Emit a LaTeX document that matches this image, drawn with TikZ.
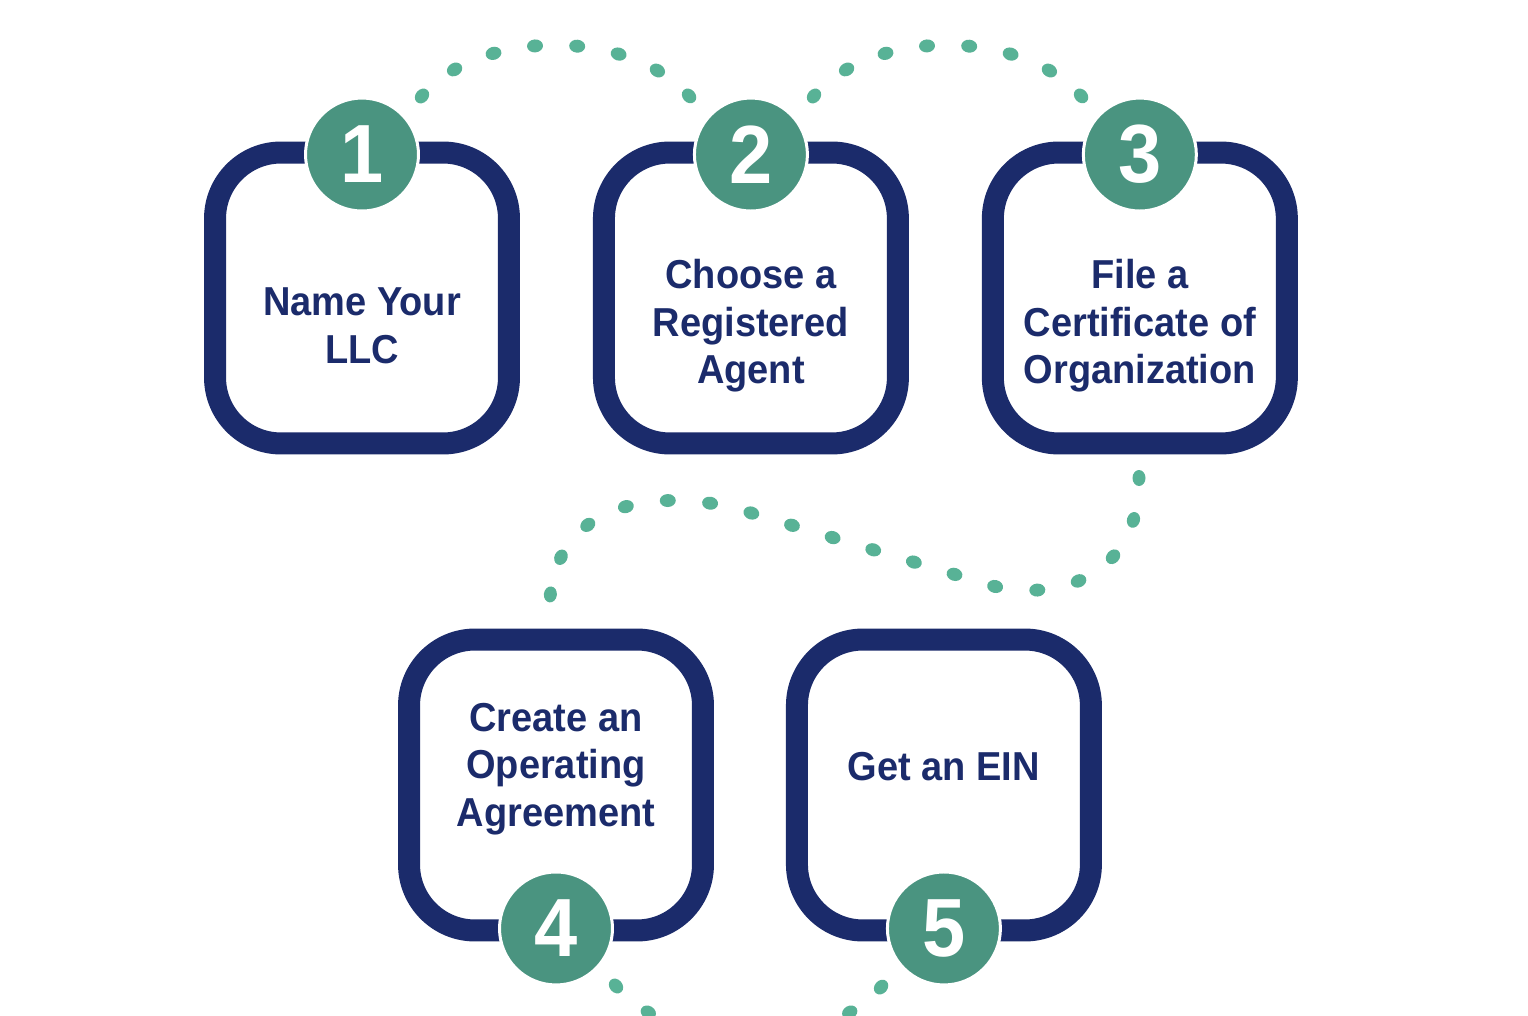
\documentclass[tikz,border=0pt]{standalone}
\usepackage{fontspec}
\setmainfont{Liberation Sans}[FakeStretch=0.94]
\usetikzlibrary{positioning}
\usetikzlibrary{decorations.markings}

\definecolor{llcnavy}{RGB}{27,43,107}
\definecolor{llcgreen}{RGB}{74,148,128}
\definecolor{llcdot}{RGB}{88,178,150}

\tikzset{
  stepbox/.style={draw=llcnavy, line width=0.44cm, rounded corners=1.32cm,
    minimum width=5.88cm, minimum height=5.82cm, inner sep=0pt, outer sep=0pt},
  stepnum/.style={circle, fill=llcgreen, draw=white, line width=0.06cm,
    minimum size=2.26cm, inner sep=0pt, text=white,
    font=\fontsize{47}{47}\selectfont\bfseries},
  steptext/.style={align=center, text=llcnavy,
    font=\fontsize{23}{27}\selectfont\bfseries},
  trail/.style={decoration={markings,
    mark=between positions 0 and 0.98 step #1 with
      {\fill[llcdot] (0,0) ellipse (0.16cm and 0.13cm);},
    mark=at position 0.995 with
      {\fill[llcdot] (0,0) ellipse (0.16cm and 0.13cm);}}, decorate}
}

\begin{document}
\begin{tikzpicture}[x=0.02cm, y=-0.02cm]
  \useasboundingbox (0,0) rectangle (1528,1016);
  \fill[white] (0,0) rectangle (1528,1016);
  \clip (0,0) rectangle (1528,1016);

  % Dotted trail: 1 -> 2
  \coordinate (t1a) at (422,96);
  \coordinate (t1b) at (690,97);
  \path[trail=0.14285] (t1a) .. controls (480,28) and (630,28) .. (t1b);
  % Dotted trail: 2 -> 3
  \coordinate (t2a) at (814,96);
  \coordinate (t2b) at (1082,97);
  \path[trail=0.14285] (t2a) .. controls (872,28) and (1022,28) .. (t2b);
  % Dotted trail: 3 -> 4 (the long S)
  \coordinate (t3a) at (1139,478);
  \coordinate (t3b) at (550,598);
  \path[trail=0.05882] (t3a) .. controls (1140,575) and (1060,602) .. (993,586)
    -- (748,512) .. controls (680,490) and (560,490) .. (t3b);
  % Dotted trail: 4 -> 5 (runs off the bottom)
  \coordinate (t4a) at (616,986);
  \coordinate (t4b) at (882,986);
  \path[trail=0.14285] (t4a) .. controls (674,1054) and (824,1054) .. (t4b);

  % Row 1
  \node[stepbox] (box1) at (362,298) {};
  \node[stepbox, right=1.9cm of box1] (box2) {};
  \node[stepbox, right=1.9cm of box2] (box3) {};
  % Row 2
  \node[stepbox] (box4) at (556,785) {};
  \node[stepbox, right=1.88cm of box4] (box5) {};

  % Labels
  \node[steptext, yshift=-0.56cm] (txt1) at (box1) {Name Your\\LLC};
  \node[steptext, yshift=-0.56cm] (txt2) at (box2) {Choose a\\Registered\\Agent};
  \node[steptext, yshift=-0.56cm] (txt3) at (box3) {File a\\Certificate of\\Organization};
  \node[steptext, yshift=0.32cm] (txt4) at (box4) {Create an\\Operating\\Agreement};
  \node[steptext, yshift=0.36cm] (txt5) at (box5) {Get an EIN};

  % Numbers
  \node[stepnum, yshift=-0.04cm] (num1) at (box1.north) {1};
  \node[stepnum, yshift=-0.04cm] (num2) at (box2.north) {2};
  \node[stepnum, yshift=-0.04cm] (num3) at (box3.north) {3};
  \node[stepnum, yshift=0.04cm] (num4) at (box4.south) {4};
  \node[stepnum, yshift=0.04cm] (num5) at (box5.south) {5};
\end{tikzpicture}
\end{document}
